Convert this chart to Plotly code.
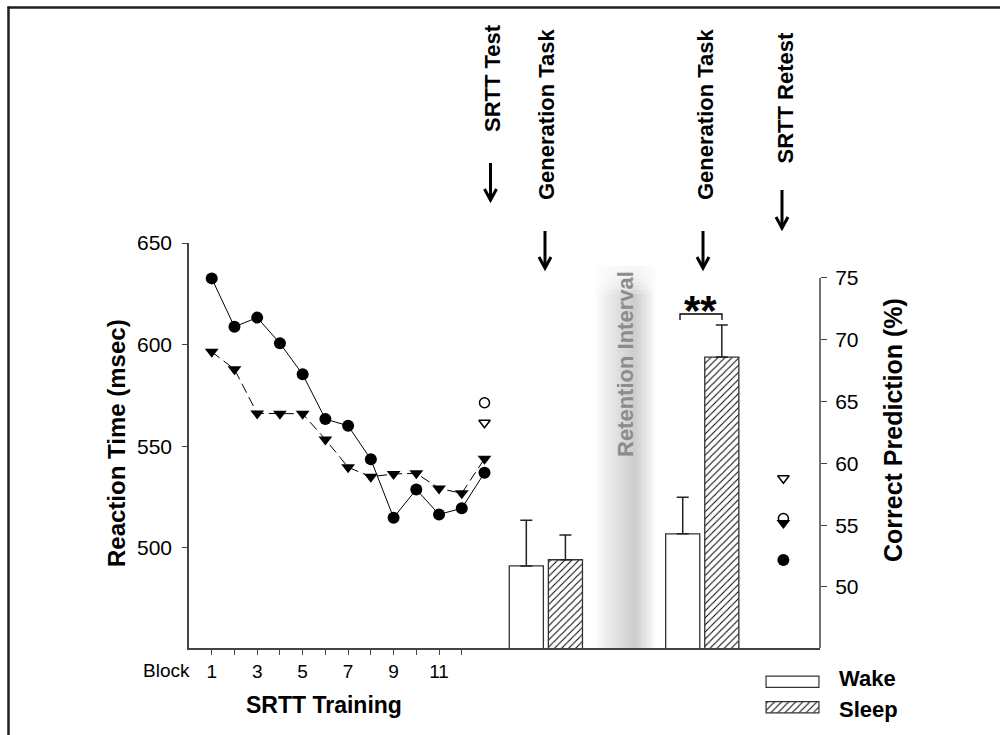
import plotly.graph_objects as go

# ---------------- data ----------------
blocks = list(range(1, 13))
block_tick_text = ["1", "", "3", "", "5", "", "7", "", "9", "", "11", ""]

circle_rt = [632.6, 608.8, 613.3, 600.7, 585.4, 563.4, 560.1, 543.6, 514.9, 528.8, 516.5, 519.5]
circle_test = 537.0
triangle_rt = [596.5, 587.9, 566.2, 566.0, 566.0, 553.4, 539.7, 535.0, 536.4, 536.7, 529.3, 526.9]
triangle_test = 543.9
open_circle_test = 571.4
open_triangle_test = 561.6

retest_open_triangle = 534.3
retest_open_circle = 514.5
retest_filled_triangle = 512.3
retest_filled_circle = 494.1

groups = ["Wake", "Sleep"]
gen1_pred = [51.7, 52.2]
gen1_err = [3.7, 2.0]
gen2_pred = [54.3, 68.6]
gen2_err = [2.95, 2.6]

left_ticks = [500, 550, 600, 650]
right_ticks = [50, 55, 60, 65, 70, 75]

# ---------------- layout constants ----------------
W, H = 1000, 735
L, R, T, B = 189, 820, 243, 648          # plot area in pixels
XMAX = 27.76
Y1 = [450.8, 650]
Y2 = [45.06, 77.83]
TEST_X = 13
RETEST_X = 26.15
GEN_X = [15.70, 22.58]
OFF = 0.86
BAR_W = 1.5

FONT = "Liberation Sans, Arial, sans-serif"
AX = "#444444"
HATCH = dict(fgcolor="black", bgcolor="white", size=5, solidity=0.2)


def px(x):
    return x / W


def py(y):
    return (H - y) / H


fig = go.Figure()

# lines
fig.add_trace(go.Scatter(
    x=blocks + [TEST_X], y=circle_rt + [circle_test], mode="lines+markers",
    line=dict(color="black", width=1),
    marker=dict(symbol="circle", size=12, color="black"),
    showlegend=False))
fig.add_trace(go.Scatter(
    x=blocks + [TEST_X], y=triangle_rt + [triangle_test], mode="lines+markers",
    line=dict(color="black", width=1, dash="10px,5px"),
    marker=dict(symbol="triangle-down", size=12, color="black"),
    showlegend=False))
# open markers at test
fig.add_trace(go.Scatter(
    x=[TEST_X, TEST_X], y=[open_circle_test, open_triangle_test], mode="markers",
    marker=dict(symbol=["circle", "triangle-down"], size=10, color="white",
                line=dict(color="black", width=1.5)),
    showlegend=False))
# retest markers
fig.add_trace(go.Scatter(
    x=[RETEST_X, RETEST_X], y=[retest_open_triangle, retest_open_circle], mode="markers",
    marker=dict(symbol=["triangle-down", "circle"], size=10, color="white",
                line=dict(color="black", width=1.5)),
    showlegend=False))
fig.add_trace(go.Scatter(
    x=[RETEST_X, RETEST_X], y=[retest_filled_triangle, retest_filled_circle], mode="markers",
    marker=dict(symbol=["triangle-down", "circle"], size=12, color="black"),
    showlegend=False))

# bars
for gi, (vals, errs) in enumerate([(gen1_pred, gen1_err), (gen2_pred, gen2_err)]):
    for k in range(2):
        fig.add_trace(go.Bar(
            x=[GEN_X[gi] + (k * 2 - 1) * OFF], y=[vals[k]], width=BAR_W,
            yaxis="y2",
            marker=dict(color="white", line=dict(color="#333333", width=1.3),
                        pattern=dict(shape="/" if k == 1 else "", **HATCH)),
            error_y=dict(type="data", symmetric=False, array=[errs[k]], arrayminus=[0],
                         width=6, thickness=1.5, color="#222222"),
            showlegend=False))

# legend swatches (own small axis)
fig.add_trace(go.Bar(
    y=groups, x=[1, 1], orientation="h", width=0.44, xaxis="x3", yaxis="y3",
    marker=dict(color="white", line=dict(color="#333333", width=1.2),
                pattern=dict(shape=["", "/"], **HATCH)),
    showlegend=False, hoverinfo="skip"))

shapes = []
# retention interval band (gradient made of strips)
x0b, x1b = 595, 655
n = 30
for i in range(n):
    t = (i + 0.5) / n
    f = t / 0.66 if t < 0.66 else (1 - t) / 0.34
    f = max(0.0, min(1.0, f)) ** 0.85
    g = int(round(255 - 50 * f))
    shapes.append(dict(type="rect", xref="paper", yref="paper",
                       x0=px(x0b + (x1b - x0b) * i / n), x1=px(x0b + (x1b - x0b) * (i + 1) / n + 0.3),
                       y0=py(648), y1=py(266), line=dict(width=0),
                       fillcolor=f"rgb({g},{g},{g})", layer="below"))
for k in range(1, 8):
    shapes.append(dict(type="rect", xref="paper", yref="paper",
                       x0=px(x0b - 1), x1=px(x1b + 1), y0=py(266 + k * 4), y1=py(264),
                       line=dict(width=0), fillcolor="white", opacity=0.22, layer="below"))

# right axis line
shapes.append(dict(type="line", xref="paper", yref="y2", x0=px(R), x1=px(R), y0=Y2[0], y1=75,
                   line=dict(color=AX, width=1.5)))

# arrows
for ax_, y_a, y_b in [(490.5, 163, 200), (545, 231, 268), (703, 231, 268), (782, 190, 228)]:
    shapes.append(dict(type="line", xref="paper", yref="paper",
                       x0=px(ax_), x1=px(ax_), y0=py(y_a), y1=py(y_b - 1),
                       line=dict(color="black", width=3)))
    shapes.append(dict(type="path", xref="paper", yref="paper",
                       path=f"M {px(ax_ - 6)},{py(y_b - 11)} L {px(ax_)},{py(y_b)} L {px(ax_ + 6)},{py(y_b - 11)}",
                       line=dict(color="black", width=3)))

# significance bracket
shapes.append(dict(type="path", xref="paper", yref="paper",
                   path=f"M {px(680)},{py(320)} L {px(680)},{py(314)} L {px(722)},{py(314)} L {px(722)},{py(320)}",
                   line=dict(color="black", width=1.3)))

# outer frame (top and left)
shapes.append(dict(type="line", xref="paper", yref="paper", x0=px(7.5), x1=px(1000),
                   y0=py(7.5), y1=py(7.5), line=dict(color="#231f20", width=2.5)))
shapes.append(dict(type="line", xref="paper", yref="paper", x0=px(8.5), x1=px(8.5),
                   y0=py(6.5), y1=py(735), line=dict(color="#231f20", width=2.5)))

ann = []


def A(text, x, y, size, xanchor="center", yanchor="middle", angle=0, color="black", bold=True):
    ann.append(dict(text=text, x=px(x), y=py(y), xref="paper", yref="paper",
                    showarrow=False, xanchor=xanchor, yanchor=yanchor, textangle=angle,
                    font=dict(family=FONT, size=size, color=color,
                              weight="bold" if bold else "normal")))


A("SRTT Test", 492, 134, 22, yanchor="bottom", angle=-90)
A("Generation Task", 546, 202, 22, yanchor="bottom", angle=-90)
A("Generation Task", 705, 202, 22, yanchor="bottom", angle=-90)
A("SRTT Retest", 785, 166, 22, yanchor="bottom", angle=-90)
A("Retention Interval", 625, 364, 22, angle=-90, color="#8c8c8c")
A("Reaction Time (msec)", 116, 443, 24, angle=-90)
A("Correct Prediction (%)", 893, 430, 25, angle=-90)
A("SRTT Training", 324, 705, 23)
A("Block", 192, 670, 19, xanchor="right", bold=False)
A("Wake", 837, 678, 22, xanchor="left")
A("Sleep", 837, 709, 22, xanchor="left")
A("**", 700, 310, 42)

fig.update_layout(
    template="none",
    width=W, height=H,
    margin=dict(l=0, r=0, t=0, b=0, pad=0, autoexpand=False),
    paper_bgcolor="white", plot_bgcolor="white",
    font=dict(family=FONT, color="black"),
    showlegend=False, barmode="overlay",
    xaxis=dict(domain=[px(L), px(R)], range=[0, XMAX], showgrid=False, zeroline=False,
               showline=True, anchor="y", automargin=False,
               linecolor=AX, linewidth=1.5, ticks="outside", ticklen=5, tickwidth=1.2,
               tickcolor=AX, tickvals=blocks, ticktext=block_tick_text,
               tickfont=dict(size=19), ticklabelstandoff=0),
    yaxis=dict(domain=[py(B), py(T)], range=Y1, showgrid=False, zeroline=False, showline=True,
               linecolor=AX, anchor="x", automargin=False,
               linewidth=1.5, ticks="outside", ticklen=5, tickwidth=1.2, tickcolor=AX,
               tickvals=left_ticks, tickfont=dict(size=21), ticklabelstandoff=6),
    yaxis2=dict(range=Y2, overlaying="y", side="right", anchor="x", showgrid=False, zeroline=False,
                showline=False, ticks="outside", ticklen=6, tickwidth=1.2, tickcolor=AX,
                automargin=False,
                tickvals=right_ticks, tickfont=dict(size=21), ticklabelstandoff=4),
    xaxis3=dict(domain=[px(765), px(820)], range=[-0.02, 1.02], anchor="y3",
                visible=False, fixedrange=True, automargin=False),
    yaxis3=dict(domain=[py(720), py(669)], anchor="x3", autorange="reversed",
                visible=False, fixedrange=True, type="category", automargin=False),
    shapes=shapes, annotations=ann,
)

fig.write_html("out.html", config={"displayModeBar": False},
               post_script="document.body.style.margin='0px';")
